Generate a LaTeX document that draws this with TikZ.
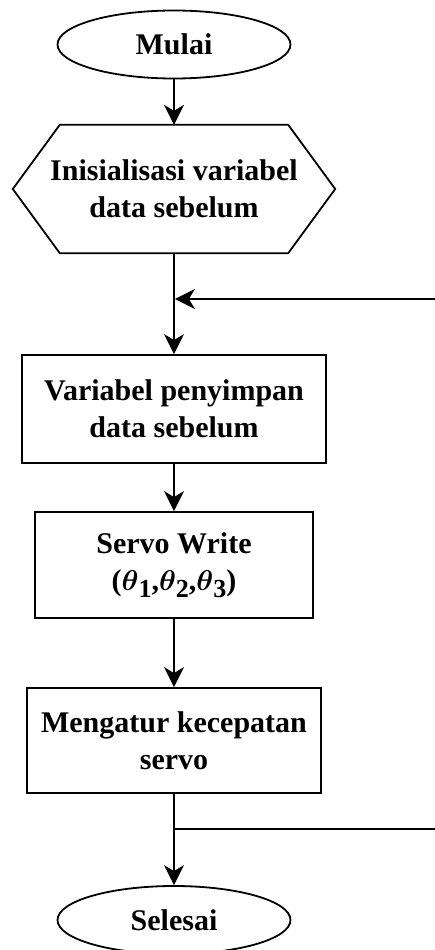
\documentclass[tikz,border=0pt]{standalone}
\usepackage{fontspec}
\usepackage{amsmath,amssymb,bm}
\setmainfont{Liberation Serif}
\usetikzlibrary{arrows.meta,shapes.geometric,calc}

% theta with a large, lowered subscript digit
\newcommand{\thetasub}[1]{\scalebox{1.15}{$\bm{\theta}$}\raisebox{-7pt}{\fontsize{26}{26}\selectfont\bfseries #1}}

\begin{document}
\begin{tikzpicture}[x=1pt,y=-1pt,
  every node/.style={font=\fontsize{30}{37}\selectfont\bfseries, align=center, inner sep=0pt},
  terminal/.style={ellipse, draw, line width=1.8pt, minimum width=233pt, minimum height=68pt},
  procbox/.style={rectangle, draw, line width=1.8pt},
  flow/.style={line width=1.8pt, -{Stealth[length=20pt,width=20pt,inset=6pt]}},
  plain/.style={line width=1.8pt}
]
\useasboundingbox (0,0) rectangle (435,950);

% terminals
\node[terminal] (mulai) at (174,44.5) {Mulai};
\node[terminal] (selesai) at (174,920) {Selesai};

% preparation step (hexagon drawn around an invisible node)
\node[minimum width=322pt, minimum height=128pt] (init) at (174,189) {Inisialisasi variabel\\data sebelum};
\draw[plain, line join=miter]
  ($(init.north west)+(47,0)$) -- ($(init.north east)+(-47,0)$) -- (init.east)
  -- ($(init.south east)+(-47,0)$) -- ($(init.south west)+(47,0)$) -- (init.west) -- cycle;

% process boxes
\node[procbox, minimum width=304pt, minimum height=108pt] (simpan) at (174,409) {Variabel penyimpan\\data sebelum};
\node[procbox, minimum width=278pt, minimum height=106pt] (servo) at (174,565)
  {Servo Write\\(\thetasub{1},\thetasub{2},\thetasub{3})};
\node[procbox, minimum width=294pt, minimum height=105pt] (atur) at (174,740.5) {Mengatur kecepatan\\servo};

% junction points of the loop
\coordinate (loopin) at (174,299);
\coordinate (loopout) at (174,829);
\coordinate (rin) at (437,299);
\coordinate (rout) at (437,829);

% main flow
\draw[flow] (mulai) -- (init.north);
\draw[flow] (init.south) -- (simpan);
\draw[flow] (simpan) -- (servo);
\draw[flow] (servo) -- (atur);
\draw[flow] (atur) -- (selesai);

% loop back
\draw[plain] (loopout) -- (rout);
\draw[flow, shorten >=0.9pt] (rin) -- (loopin);
\end{tikzpicture}
\end{document}
